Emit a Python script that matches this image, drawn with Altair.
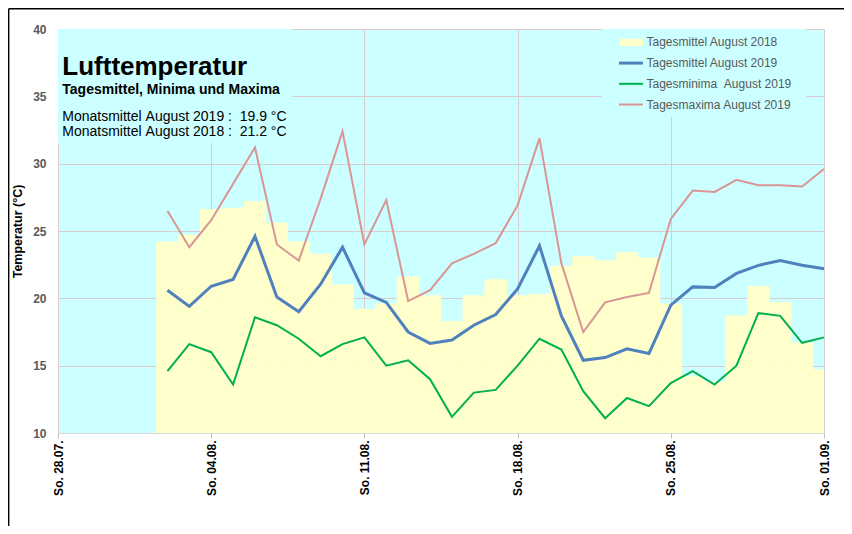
import altair as alt
import pandas as pd

# ---------------- data ----------------
days = [f"2019-08-{d:02d}" for d in range(1, 32)]
mean_2018 = [24.2, 24.7, 26.6, 26.7, 27.2, 25.6, 24.2, 23.3, 21.0, 19.2, 19.6, 21.6, 20.2, 18.3, 20.2, 21.4,
             20.2, 20.3, 22.4, 23.1, 22.8, 23.4, 23.0, 19.6, 14.2, 13.8, 18.7, 20.9, 19.7, 16.7, 14.7]
mean_2019 = [20.6, 19.4, 20.9, 21.4, 24.6, 20.1, 19.0, 21.05, 23.8, 20.4, 19.7, 17.5, 16.65, 16.9, 18.0, 18.8,
             20.7, 23.9, 18.7, 15.4, 15.6, 16.25, 15.9, 19.5, 20.85, 20.8, 21.85, 22.45, 22.8, 22.45, 22.2]
min_2019 = [14.6, 16.6, 16.0, 13.6, 18.6, 18.0, 17.0, 15.7, 16.6, 17.1, 15.0, 15.4, 14.0, 11.2, 13.0, 13.2,
            15.0, 17.0, 16.2, 13.1, 11.1, 12.6, 12.0, 13.7, 14.6, 13.6, 15.0, 18.9, 18.7, 16.7, 17.1]
max_2019 = [26.5, 23.8, 25.8, 28.5, 31.2, 24.0, 22.8, 27.4, 32.4, 24.0, 27.3, 19.8, 20.6, 22.6, 23.3, 24.1,
            26.9, 31.9, 22.6, 17.5, 19.7, 20.1, 20.4, 25.9, 28.0, 27.9, 28.8, 28.4, 28.4, 28.3, 29.6]
x_ticks = ["2019-07-28", "2019-08-04", "2019-08-11", "2019-08-18", "2019-08-25", "2019-09-01"]
y_ticks = [10, 15, 20, 25, 30, 35, 40]

NB = "\u00a0"
title_text = "Lufttemperatur"
subtitle_text = "Tagesmittel, Minima und Maxima"
info_lines = [f"Monatsmittel{NB}August 2019 :{NB}{NB}19.9 °C",
              f"Monatsmittel{NB}August 2018 :{NB}{NB}21.2 °C"]
legend_labels = ["Tagesmittel August 2018", "Tagesmittel August 2019",
                 f"Tagesminima{NB}{NB}August 2019", "Tagesmaxima August 2019"]

# ---------------- styles ----------------
C_BG = "#ccffff"
C_BAR = "#ffffcc"
C_MEAN = "#4f81bd"
C_MIN = "#00b050"
C_MAX = "#d99694"
C_GRID = "#dacdd0"
FONT = "Liberation Sans"


def ms(s):
    return int(pd.Timestamp(s, tz="UTC").value // 10**6)


DAY = 86400000
HALF = DAY // 2
t_end = [ms(d) + DAY for d in days]  # daily values plotted at the end of each day

df = pd.DataFrame({
    "t": t_end,
    "start": [t - HALF for t in t_end],
    "end": [t + HALF for t in t_end],
    "m2018": mean_2018,
    "m2019": mean_2019,
    "min2019": min_2019,
    "max2019": max_2019,
})

W, H = 766, 404

xscale = alt.Scale(type="utc", domain=[ms(x_ticks[0]), ms(x_ticks[-1])], nice=False)
yscale = alt.Scale(domain=[10, 40], nice=False, zero=False)

xaxis = alt.Axis(
    values=[ms(v) for v in x_ticks],
    labelExpr="'So. ' + utcFormat(datum.value, '%d.%m.')",
    labelAngle=-90, labelFont=FONT, labelFontSize=12, labelFontWeight="bold",
    labelColor="#000000", labelPadding=2, tickSize=5, tickColor="#bfbfbf",
    domainColor="#d9d9d9", gridColor=C_GRID, grid=True, title=None,
)
yaxis = alt.Axis(
    values=y_ticks, labelFont=FONT, labelFontSize=12, labelFontWeight="bold",
    labelColor="#595959", labelPadding=12, ticks=False, domain=False,
    gridColor=C_GRID, grid=True,
    title="Temperatur (°C)", titleFont=FONT, titleFontSize=12.5, titleFontWeight="bold",
    titleColor="#000000", titlePadding=8,
)

X = lambda f: alt.X(f"{f}:T", scale=xscale, axis=xaxis)
Y = lambda f: alt.Y(f"{f}:Q", scale=yscale, axis=yaxis)

one = alt.Data(values=[{}])

# cyan boxes behind the text block and the legend (hide gridlines like the original)
box_text = alt.Chart(one).mark_rect(color=C_BG).encode(
    x=alt.value(0), x2=alt.value(234), y=alt.value(0), y2=alt.value(114))
box_leg = alt.Chart(one).mark_rect(color=C_BG).encode(
    x=alt.value(544), x2=alt.value(748), y=alt.value(0), y2=alt.value(88))

bars = alt.Chart(df).mark_rect(color=C_BAR, stroke=C_BAR, strokeWidth=0.6, clip=True).encode(
    x=X("start"), x2="end", y=Y("m2018"), y2=alt.datum(10))

line_mean = alt.Chart(df).mark_line(color=C_MEAN, strokeWidth=3).encode(x=X("t"), y=Y("m2019"))
line_min = alt.Chart(df).mark_line(color=C_MIN, strokeWidth=2).encode(x=X("t"), y=Y("min2019"))
line_max = alt.Chart(df).mark_line(color=C_MAX, strokeWidth=2).encode(x=X("t"), y=Y("max2019"))

texts = [
    alt.Chart(one).mark_text(text=title_text, font=FONT, fontSize=26, fontWeight="bold",
                             align="left", baseline="alphabetic", color="#000000")
    .encode(x=alt.value(4.3), y=alt.value(45.7)),
    alt.Chart(one).mark_text(text=subtitle_text, font=FONT, fontSize=14, fontWeight="bold",
                             align="left", baseline="alphabetic", color="#000000")
    .encode(x=alt.value(4.3), y=alt.value(64.7)),
]
for i, line in enumerate(info_lines):
    texts.append(
        alt.Chart(one).mark_text(text=line, font=FONT, fontSize=14, align="left",
                                 baseline="alphabetic", color="#000000")
        .encode(x=alt.value(4.3), y=alt.value(91.7 + 15 * i)))

# legend
leg = []
leg_y0, leg_dy = 13.4, 20.7
leg.append(alt.Chart(one).mark_rect(color=C_BAR).encode(
    x=alt.value(562), x2=alt.value(585), y=alt.value(leg_y0 - 3.7), y2=alt.value(leg_y0 + 3.7)))
for i, (c, w) in enumerate([(C_MEAN, 3), (C_MIN, 2), (C_MAX, 2)], start=1):
    leg.append(alt.Chart(one).mark_rule(color=c, strokeWidth=w).encode(
        x=alt.value(561), x2=alt.value(585), y=alt.value(leg_y0 + leg_dy * i)))
for i, lab in enumerate(legend_labels):
    leg.append(alt.Chart(one).mark_text(text=lab, font=FONT, fontSize=12, align="left",
                                        baseline="middle", color="#595959")
               .encode(x=alt.value(588.5), y=alt.value(leg_y0 + leg_dy * i)))

# outer chart frame (top and left black lines, at the canvas edge)
frame = [
    alt.Chart(one).mark_rule(color="#000000", strokeWidth=1.4, clip=False).encode(
        x=alt.value(-49.3), x2=alt.value(900), y=alt.value(-20.3)),
    alt.Chart(one).mark_rule(color="#000000", strokeWidth=1.4, clip=False).encode(
        x=alt.value(-49.3), y=alt.value(-20.3), y2=alt.value(700)),
]

chart = alt.layer(
    box_text, box_leg, bars, line_mean, line_min, line_max, *texts, *leg, *frame
).properties(
    width=W, height=H,
    background="#ffffff",
    autosize=alt.AutoSizeParams(type="none"),
    padding={"left": 50, "top": 21, "right": 20, "bottom": 93},
).configure_view(
    fill=C_BG, stroke="#d9d9d9", strokeWidth=1
)

chart.save("out.html", embed_options={"renderer": "svg", "actions": False})
